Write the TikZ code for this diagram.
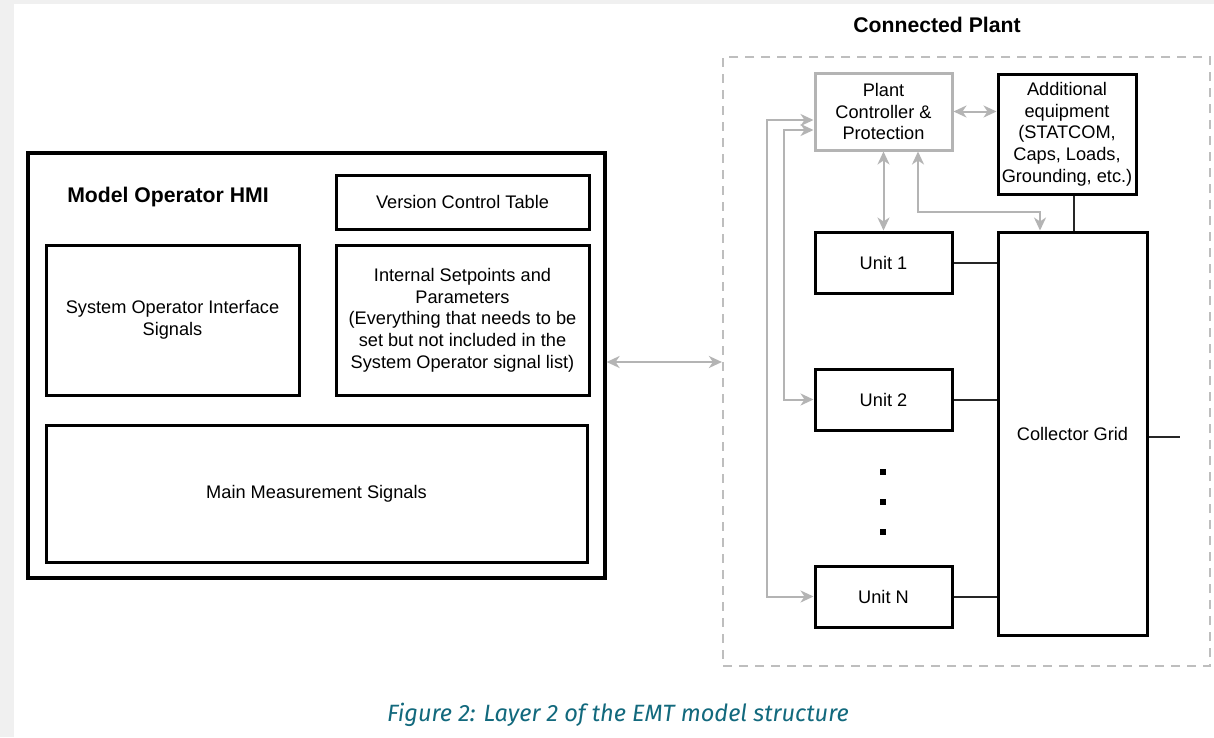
\documentclass[tikz,border=0pt]{standalone}
\usepackage{fontspec}
\setmainfont{Liberation Sans}
\newfontfamily\capfont{Fira Sans}
\usetikzlibrary{arrows.meta}
\definecolor{lgray}{RGB}{180,180,180}
\definecolor{dgray}{RGB}{190,190,190}
\definecolor{capteal}{RGB}{18,105,125}
\definecolor{pagegray}{RGB}{240,240,240}
\tikzset{
  box/.style={draw=black, line width=3pt, align=center, inner sep=2pt,
    font=\fontsize{18.2}{21.7}\selectfont},
  gbox/.style={draw=lgray, line width=3pt, align=center, inner sep=2pt,
    font=\fontsize{18.2}{21.7}\selectfont},
  title/.style={font=\fontsize{21.2}{25}\selectfont\bfseries},
  garrow/.style={draw=lgray, line width=2pt,
    {Stealth[length=13pt,width=12pt,inset=4pt]}-{Stealth[length=13pt,width=12pt,inset=4pt]}},
  blink/.style={draw=black!85, line width=2pt},
  dotbox/.style={fill=black, minimum size=5.5pt, inner sep=0pt}
}
\begin{document}
\begin{tikzpicture}[x=1pt,y=-1pt]
\useasboundingbox (0,0) rectangle (1214,737);
\fill[pagegray] (0,0) rectangle (1214,737);
\fill[white] (14,4) rectangle (1214,737);

% HMI
\node[box, line width=3.2pt, minimum width=577pt, minimum height=425pt] (hmi) at (316.5,365.5) {};
\node[title] (hmit) at (168,197) {Model Operator HMI};
\node[box, minimum width=253pt, minimum height=54pt] (vct) at (462.5,202) {Version Control Table};
\node[box, minimum width=253pt, minimum height=150pt] (sois) at (172.5,320) {System Operator Interface\\Signals};
\node[box, minimum width=253pt, minimum height=150pt] (isp) at (462.5,320) {Internal Setpoints and\\Parameters\\(Everything that needs to be\\set but not included in the\\System Operator signal list)};
\node[box, minimum width=541pt, minimum height=137pt] (mms) at (316.5,493.5) {Main Measurement Signals};

% Plant
\node[title] (plt) at (937,25) {Connected Plant};
\node[draw=dgray, line width=2.2pt, dash pattern=on 9pt off 7pt, minimum width=487pt, minimum height=609pt] (plant) at (966.5,361.5) {};
\node[gbox, minimum width=137pt, minimum height=77pt] (pc) at (883.5,111.5) {Plant\\Controller \&\\Protection};
\node[box, minimum width=138pt, minimum height=120pt] (ae) at (1067,134) {Additional\\equipment\\(STATCOM,\\Caps, Loads,\\Grounding, etc.)};
\node[box, minimum width=137pt, minimum height=61pt] (u1) at (883.5,262.5) {Unit 1};
\node[box, minimum width=137pt, minimum height=61pt] (u2) at (883.5,399.5) {Unit 2};
\node[box, minimum width=137pt, minimum height=61pt] (un) at (883.5,596.5) {Unit N};
\node[box, minimum width=149pt, minimum height=403pt] (cg) at (1072.5,433.5) {Collector Grid};
\node[dotbox] (d1) at (883,472) {};
\node[dotbox] (d2) at (883,502) {};
\node[dotbox] (d3) at (883,532) {};
\coordinate (out) at (1180,437);

% black links
\draw[blink] (u1.east) -- (u1.east -| cg.west);
\draw[blink] (u2.east) -- (u2.east -| cg.west);
\draw[blink] (un.east) -- (un.east -| cg.west);
\draw[blink] ([xshift=7pt]ae.south) -- ([xshift=7pt]ae.south |- cg.north);
\draw[blink] (cg.east |- out) -- (out);

% gray arrows
\draw[garrow] ([yshift=3.5pt]hmi.east) -- ([yshift=3.5pt]hmi.east -| plant.west);
\draw[garrow] (pc.east) -- (pc.east -| ae.west);
\draw[garrow] (pc.south) -- (u1.north);
\draw[garrow] ([xshift=34.5pt]pc.south) -- ++(0,60) -| ([xshift=-32.5pt]cg.north);
\draw[garrow] ([yshift=-8.5pt]pc.west) -- ++(-47,0) |- (un.west);
\draw[garrow] ([yshift=-18.5pt]pc.west) -- ++(-30,0) |- (u2.west);

% caption
\node[font=\capfont\itshape\fontsize{23.6}{28}\selectfont, text=capteal] (cap) at (618,715) {Figure 2: Layer 2 of the EMT model structure};
\end{tikzpicture}
\end{document}
